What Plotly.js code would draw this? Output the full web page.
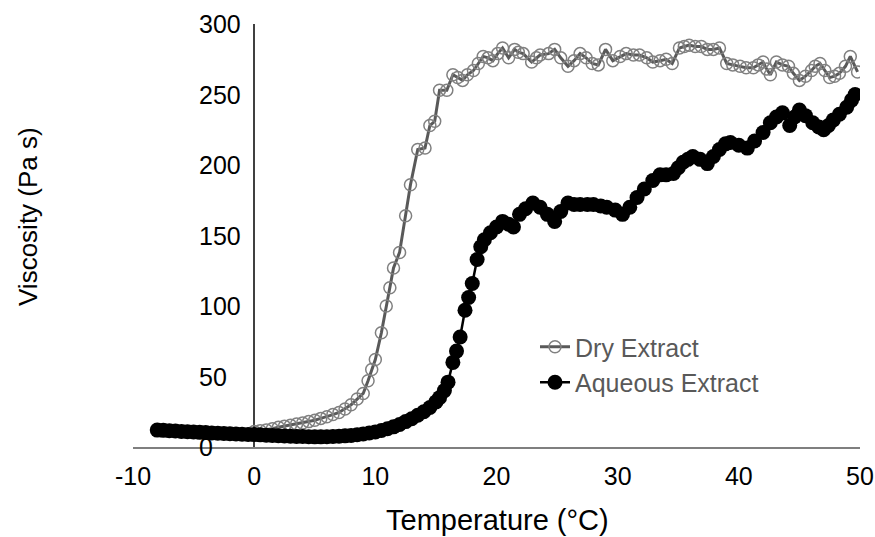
<!DOCTYPE html>
<html>
<head>
<meta charset="utf-8">
<script src="https://cdn.plot.ly/plotly-3.0.1.min.js"></script>
<style>html,body{margin:0;padding:0;background:#fff;}#chart{width:875px;height:537px;}</style>
</head>
<body>
<div id="chart"></div>
<script>
// Dry Extract
const dryT = [0,0.5,1.0,1.5,2.0,2.5,3.0,3.5,4.0,4.5,5.0,5.5,6.0,6.5,7.0,7.5,8.0,8.5,9.0,9.4,9.7,10.0,10.5,10.9,11.2,11.5,12.0,12.5,12.9,13.5,14.1,14.5,14.9,15.3,15.9,16.4,16.8,17.2,17.6,18.1,18.5,18.9,19.3,19.7,20.1,20.5,21.0,21.5,21.8,22.2,22.9,23.3,23.6,24.3,24.8,25.3,25.9,26.4,26.9,27.4,27.9,28.4,29.0,29.6,30.2,30.7,31.3,31.8,32.4,32.9,33.5,34.0,34.5,35.1,35.5,35.9,36.4,36.9,37.4,37.9,38.4,39.0,39.5,40.1,40.6,41.2,41.6,42.0,42.3,42.6,43.1,43.6,44.1,44.5,45.0,45.5,46.0,46.3,46.7,47.1,47.5,47.9,48.3,48.8,49.2,49.8];
const dryV = [11,11.5,12,13,14,14.8,15.5,16.3,17,18,19,20.3,21.5,23,24.5,27,30,34,38,47,55,62,81,100,113,127,138,164,186,211,212,228,231,253,253,264,262,260,264,267,272,277,276,274,279,283,276,282,280,279,273,276,278,279,282,276,270,274,279,276,272,271,282,274,277,279,278,278,276,273,274,275,272,283,284,285,284,284,282,282,283,272,271,270,269,269,271,273,268,264,273,271,270,265,260,263,267,270,272,267,262,263,265,270,277,266];
// Aqueous Extract
const aqT = [-8.0,-7.5,-7.0,-6.5,-6.0,-5.5,-5.0,-4.5,-4.0,-3.5,-3.0,-2.5,-2.0,-1.5,-1.0,-0.5,0,0.5,1.0,1.5,2.0,2.5,3.0,3.5,4.0,4.5,5.0,5.5,6.0,6.5,7.0,7.5,8.0,8.5,9.0,9.5,10.0,10.5,11.0,11.5,12.0,12.5,13.0,13.5,14.0,14.5,15.0,15.3,15.7,16.0,16.4,16.7,17.0,17.4,17.7,18.0,18.4,18.7,19.0,19.5,20.0,20.5,21.0,21.4,21.9,22.4,23.0,23.6,24.2,24.8,25.3,25.9,26.4,26.9,27.5,28.0,28.6,29.1,29.8,30.4,31.0,31.6,32.2,32.9,33.5,34.0,34.6,35.0,35.4,35.8,36.2,36.8,37.4,37.9,38.4,38.9,39.3,40.0,40.7,41.3,42.0,42.6,43.1,43.6,44.2,44.6,45.0,45.5,46.1,46.6,47.0,47.4,47.8,48.3,48.9,49.3,49.6];
const aqV = [12,11.8,11.5,11.3,11,10.8,10.6,10.4,10.2,10,9.8,9.6,9.4,9.2,9,8.9,8.8,8.6,8.4,8.2,8,7.8,7.6,7.5,7.4,7.3,7.2,7.2,7.3,7.4,7.6,7.9,8.2,8.7,9.2,9.9,10.7,11.7,12.9,14.3,16,18,20,22.5,25,28,32,35,40,46,60,68,78,97,106,116,133,142,147,152,156,160,158,156,165,169,173,170,165,160,167,173,172,172,172,172,171,170,168,165,170,177,183,189,193,193,194,198,202,204,206,204,201,206,211,215,216,214,212,217,223,230,234,237,228,234,239,235,230,227,225,228,232,236,241,246,250];

const xTicks = [-10,0,10,20,30,40,50];
const yTicks = [0,50,100,150,200,250,300];
const seriesNames = ["Dry Extract","Aqueous Extract"];
const xTitle = "Temperature (°C)";
const yTitle = "Viscosity (Pa s)";

const FONT = "Liberation Sans, Arial, sans-serif";

const traces = [
  {x: dryT, y: dryV, name: seriesNames[0], mode: "lines+markers", type: "scatter",
   line: {color: "#595959", width: 3},
   marker: {symbol: "circle-open", size: 12, color: "#808080", line: {width: 1.5, color: "#808080"}}},
  {x: aqT, y: aqV, name: seriesNames[1], mode: "lines+markers", type: "scatter",
   line: {color: "#000000", width: 2.5},
   marker: {symbol: "circle", size: 15, color: "#000000"}}
];

const L = 133, R = 860, T = 24, B = 447;
const px2x = p => (p - L) / (R - L);
const py2y = p => (B - p) / (B - T);

const annotations = yTicks.map(v => ({
  xref: "paper", yref: "y", x: px2x(197), y: v, xanchor: "left", yanchor: "middle",
  text: String(v), showarrow: false, font: {family: FONT, size: 25, color: "#000"}
}));
annotations.push({xref: "paper", yref: "paper", x: px2x(497), y: py2y(520), xanchor: "center", yanchor: "middle",
  text: xTitle, showarrow: false, font: {family: FONT, size: 29, color: "#000"}});
annotations.push({xref: "paper", yref: "paper", x: px2x(28), y: py2y(216), xanchor: "center", yanchor: "middle",
  text: yTitle, textangle: -90, showarrow: false, font: {family: FONT, size: 26, color: "#000"}});

const layout = {
  width: 875, height: 537,
  margin: {l: L, r: 875 - R, t: T, b: 537 - B, pad: 0},
  paper_bgcolor: "#fff", plot_bgcolor: "#fff",
  font: {family: FONT, size: 25, color: "#000"},
  showlegend: true,
  legend: {x: px2x(535), y: py2y(324), xanchor: "left", yanchor: "top",
    bgcolor: "rgba(0,0,0,0)", font: {family: FONT, size: 25, color: "#595959"}, itemwidth: 30, tracegroupgap: 0},
  xaxis: {range: [-10, 50], tickvals: xTicks, ticktext: xTicks.map(String), showgrid: false,
    zeroline: true, zerolinecolor: "#404040", zerolinewidth: 1.5,
    showline: true, linecolor: "#7f7f7f", linewidth: 2, ticks: "", ticklabelstandoff: 6,
    tickfont: {family: FONT, size: 25, color: "#000"}},
  yaxis: {range: [0, 300], showgrid: false, zeroline: false, showline: false, showticklabels: false, ticks: ""},
  annotations: annotations
};

Plotly.newPlot("chart", traces, layout, {displayModeBar: false, staticPlot: true});
</script>
</body>
</html>
